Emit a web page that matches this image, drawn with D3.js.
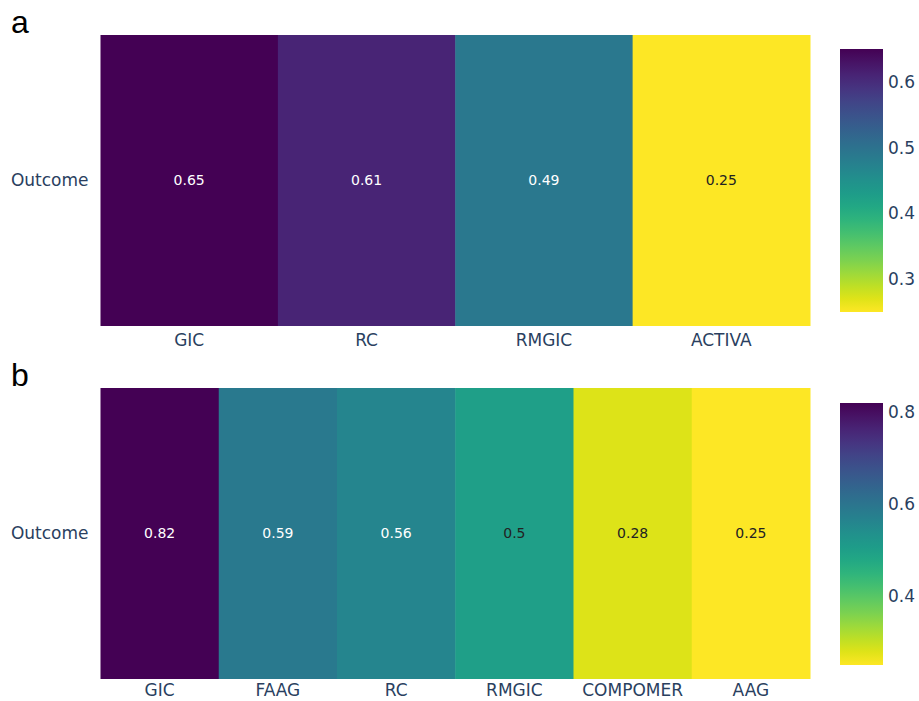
<!DOCTYPE html>
<html>
<head>
<meta charset="utf-8">
<script src="https://cdn.jsdelivr.net/npm/d3@7"></script>
<style>
  body { margin: 0; background: #fff; }
  .tick text { font-family: "DejaVu Sans", sans-serif; fill: #2a3f5f; }
</style>
</head>
<body>
<script>
// panel a data
var catsA = ["GIC", "RC", "RMGIC", "ACTIVA"];
var valsA = [0.65, 0.61, 0.49, 0.25];

// panel b data
var catsB = ["GIC", "FAAG", "RC", "RMGIC", "COMPOMER", "AAG"];
var valsB = [0.82, 0.59, 0.56, 0.5, 0.28, 0.25];

var rowLabel = ["Outcome"];

var w = 919, h = 701;

var svg = d3.select("body").append("svg")
    .attr("width", w)
    .attr("height", h);

var defs = svg.append("defs");

// brightness test like plotly's auto text colour
function textColor(c){
    var rgb = d3.rgb(c);
    var br = (rgb.r * 299 + rgb.g * 587 + rgb.b * 114) / 1000;
    return br < 112 ? "#ffffff" : "#222222";
}

function drawPanel(id, letter, cats, vals, top, bottom, cbTop, cbBottom, xPad){
    var lo = d3.min(vals), hi = d3.max(vals);

    // reversed viridis: high values dark
    var color = function(v){
        return d3.interpolateViridis(1 - (v - lo) / (hi - lo));
    };

    var x = d3.scaleBand().domain(cats).range([100.5, 810]).padding(0);
    var y = d3.scaleBand().domain(rowLabel).range([top, bottom]).padding(0);

    var g = svg.append("g").attr("class", "panel-" + id);

    g.selectAll(".cell")
        .data(vals)
        .enter()
        .append("rect")
        .attr("class", "cell")
        .attr("x", function(d, i){ return x(cats[i]); })
        .attr("y", y("Outcome"))
        .attr("width", x.bandwidth() + 0.5)
        .attr("height", y.bandwidth())
        .style("fill", function(d){ return color(d); });

    g.selectAll(".cellText")
        .data(vals)
        .enter()
        .append("text")
        .attr("class", "cellText")
        .attr("x", function(d, i){ return x(cats[i]) + x.bandwidth() / 2; })
        .attr("y", y("Outcome") + y.bandwidth() / 2)
        .attr("dy", "0.35em")
        .attr("text-anchor", "middle")
        .style("font-family", "DejaVu Sans, sans-serif")
        .style("font-size", "14px")
        .style("fill", function(d){ return textColor(color(d)); })
        .text(function(d){ return String(d); });

    // x axis
    var xAxis = g.append("g")
        .attr("transform", "translate(0," + bottom + ")")
        .call(d3.axisBottom(x).tickSize(0).tickPadding(xPad));
    xAxis.select(".domain").remove();
    xAxis.selectAll("text").style("font-size", "17px");

    // y axis
    var yAxis = g.append("g")
        .attr("transform", "translate(100.5,0)")
        .call(d3.axisLeft(y).tickSize(0).tickPadding(12));
    yAxis.select(".domain").remove();
    yAxis.selectAll("text").style("font-size", "17px");

    // colorbar gradient
    var grad = defs.append("linearGradient")
        .attr("id", "grad-" + id)
        .attr("x1", 0).attr("y1", 1)
        .attr("x2", 0).attr("y2", 0);
    d3.range(0, 1.0001, 0.05).forEach(function(t){
        grad.append("stop")
            .attr("offset", t)
            .attr("stop-color", d3.interpolateViridis(1 - t));
    });

    g.append("rect")
        .attr("x", 840)
        .attr("y", cbTop)
        .attr("width", 43)
        .attr("height", cbBottom - cbTop)
        .style("fill", "url(#grad-" + id + ")");

    var cb = d3.scaleLinear().domain([lo, hi]).range([cbBottom, cbTop]);
    var cbAxis = g.append("g")
        .attr("transform", "translate(883,0)")
        .call(d3.axisRight(cb).ticks(4).tickSize(0).tickPadding(5).tickFormat(d3.format(".1f")));
    cbAxis.select(".domain").remove();
    cbAxis.selectAll("text").style("font-size", "17px");

    // panel letter
    svg.append("text")
        .attr("x", 11)
        .attr("y", top - 2)
        .style("font-family", "Liberation Sans, Arial, sans-serif")
        .style("font-size", "32px")
        .style("fill", "#000")
        .text(letter);
}

drawPanel("a", "a", catsA, valsA, 35, 326, 49, 312, 8);
drawPanel("b", "b", catsB, valsB, 388, 679, 403, 665, 5);
</script>
</body>
</html>
